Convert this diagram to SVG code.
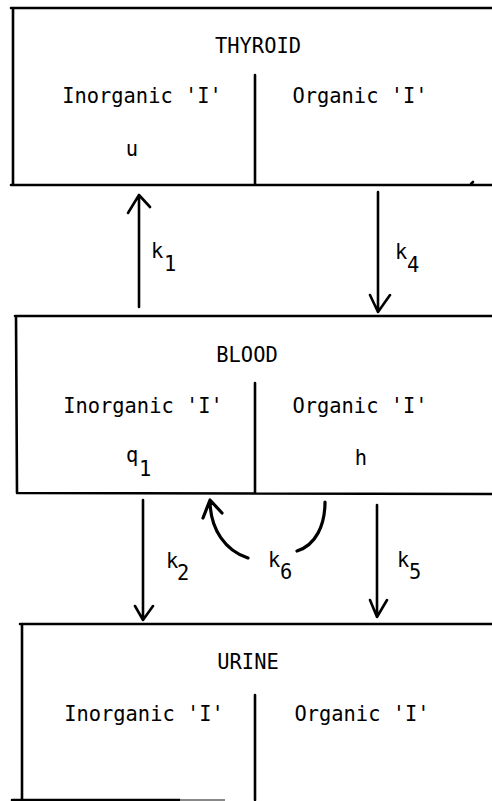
<svg xmlns="http://www.w3.org/2000/svg" width="492" height="801" viewBox="0 0 492 801">
<style>
.box{fill:none;stroke:#000;stroke-width:2.6;stroke-linecap:round;stroke-linejoin:round}
.ln{fill:none;stroke:#000;stroke-width:2.6;stroke-linecap:round;stroke-linejoin:round}
.cv{fill:none;stroke:#000;stroke-width:3.2;stroke-linecap:round;stroke-linejoin:round}
text{font-family:"DejaVu Sans Mono","Liberation Mono",monospace;font-size:20.4px;fill:#000}
.c{text-anchor:middle}
</style>
<rect width="492" height="801" fill="#fff"/>
<g id="thyroid">
<path class="box" d="M492,8 L11,8 M13,8 L13,185 M11,185 L492,185 M255,75 L255,185"/>
<path class="ln" d="M471,184 L473,182"/>
<text class="c" x="258" y="53">THYROID</text>
<text class="c" x="142" y="103">Inorganic 'I'</text>
<text class="c" x="360" y="103">Organic 'I'</text>
<text class="c" x="132" y="156">u</text>
</g>
<g id="blood">
<path class="box" d="M492,316 L15,316 M16,316 L17,493 L492,494 M255,383 L255,493"/>
<text class="c" x="247" y="362">BLOOD</text>
<text class="c" x="143" y="413">Inorganic 'I'</text>
<text class="c" x="360" y="413">Organic 'I'</text>
<text x="126" y="462">q</text>
<text x="139" y="476">1</text>
<text class="c" x="361" y="465">h</text>
</g>
<g id="urine">
<path class="box" d="M492,624 L20,624 M22,624 L22,800 M12,800 L180,800 M255,695 L255,800"/>
<path d="M180,800 L225,800" fill="none" stroke="#888" stroke-width="2"/>
<text class="c" x="248" y="669">URINE</text>
<text class="c" x="144" y="721">Inorganic 'I'</text>
<text class="c" x="362" y="721">Organic 'I'</text>
</g>
<g id="connectors">
<path class="ln" d="M139,307 L139,195 M128,213 L139,195 L150,207"/>
<path class="ln" d="M378,192 L378,312 M370,295 L378,312 L390,295"/>
<path class="ln" d="M143,500 L143,620 M135,606 L143,620 L153,606"/>
<path class="ln" d="M377,505 L377,617 M370,600 L377,617 L387,600"/>
<path class="cv" d="M248,558 C226,551 210,530 210,500 M203,518 L210,500 L222,513"/>
<path class="cv" d="M297,551 C316,545 325,525 325,502"/>
<text x="151" y="258">k</text>
<text x="164" y="271">1</text>
<text x="395" y="259">k</text>
<text x="407" y="272">4</text>
<text x="166" y="568">k</text>
<text x="177" y="580">2</text>
<text x="268" y="567">k</text>
<text x="280" y="579">6</text>
<text x="397" y="567">k</text>
<text x="409" y="579">5</text>
</g>
</svg>
